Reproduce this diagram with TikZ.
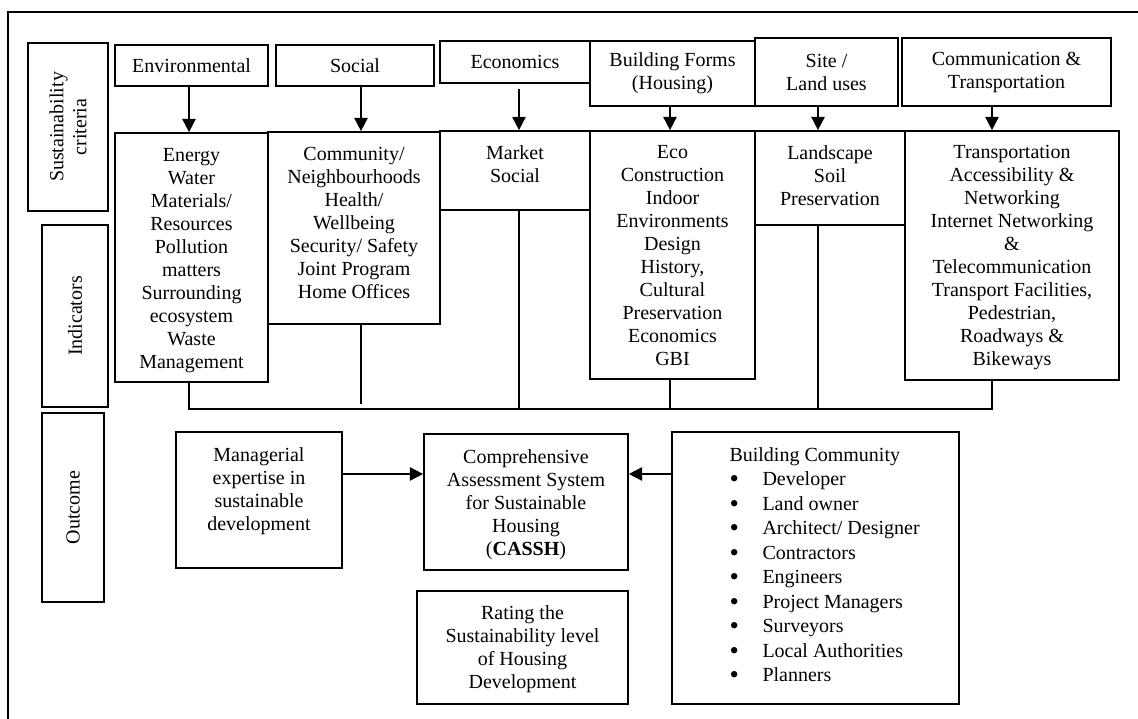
\documentclass[tikz,border=0pt]{standalone}
\usepackage{fontspec}
\setmainfont{Liberation Serif}
\usetikzlibrary{fit,arrows.meta}
\newcommand{\bulletitem}{\makebox[19.8pt][l]{\raisebox{-1pt}{\fontsize{16}{14.7}\selectfont\textbullet}}}
\begin{document}
\begin{tikzpicture}[x=0.6pt,y=-0.6pt,
  bx/.style={draw, line width=1pt, inner sep=0pt, fit={#1}},
  txt/.style={inner sep=0pt, align=center, font=\fontsize{12}{13.8}\selectfont},
  ln/.style={line width=1pt},
  arr/.style={line width=1pt, -{Triangle[length=8pt,width=8pt]}}]
\useasboundingbox (0,0) rectangle (1138,719);
% outer frame
\draw[ln] (1138,12) -- (8,12) -- (8,719);
% left labels
\node[bx={(28,43) (108,211)}] (lab1) {};
\node[txt, rotate=90] (lab1t) at (lab1.center) {Sustainability\\criteria};
\node[bx={(42,225) (108,407)}] (lab2) {};
\node[txt, rotate=90] (lab2t) at (lab2.center) {Indicators};
\node[bx={(42,413) (104,602)}] (lab3) {};
\node[txt, rotate=90] (lab3t) at (lab3.center) {Outcome};
% criteria row
\node[bx={(115,45) (268,86)}] (envC) {};
\node[txt] (envCt) at (envC.center) {Environmental};
\node[bx={(276,45) (434,86)}] (socC) {};
\node[txt] (socCt) at (socC.center) {Social};
\node[bx={(440,41) (590,83)}] (ecoC) {};
\node[txt] (ecoCt) at (ecoC.center) {Economics};
\node[bx={(590,41) (755,106)}] (bfC) {};
\node[txt] (bfCt) at (bfC.center) {Building Forms\\(Housing)};
\node[bx={(755,38) (898,106)}] (siteC) {};
\node[txt] (siteCt) at (siteC.center) {Site /\\Land uses};
\node[bx={(902,38) (1111,106)}] (comC) {};
\node[txt] (comCt) at (comC.center) {Communication \&\\Transportation};
% indicator row
\node[bx={(115,133) (268,382)}] (envI) {};
\node[txt, anchor=north] (envIt) at ([yshift=-9.6pt]envI.north) {Energy\\Water\\Materials/\\Resources\\Pollution\\matters\\Surrounding\\ecosystem\\Waste\\Management};
\node[bx={(268,132) (440,324)}] (socI) {};
\node[txt, anchor=north] (socIt) at ([yshift=-9.3pt]socI.north) {Community/\\Neighbourhoods\\Health/\\Wellbeing\\Security/ Safety\\Joint Program\\Home Offices};
\node[bx={(440,131) (590,210)}] (mkI) {};
\node[txt, anchor=north] (mkIt) at ([yshift=-9pt]mkI.north) {Market\\Social};
\node[bx={(590,131) (755,379)}] (ecI) {};
\node[txt, anchor=north] (ecIt) at ([yshift=-9pt]ecI.north) {Eco\\Construction\\Indoor\\Environments\\Design\\History,\\Cultural\\Preservation\\Economics\\GBI};
\node[bx={(755,131) (905,225)}] (lsI) {};
\node[txt, anchor=north] (lsIt) at ([yshift=-9pt]lsI.north) {Landscape\\Soil\\Preservation};
\node[bx={(905,131) (1119,380)}] (trI) {};
\node[txt, anchor=north] (trIt) at ([yshift=-9pt]trI.north) {Transportation\\Accessibility \&\\Networking\\Internet Networking\\\&\\Telecommunication\\Transport Facilities,\\Pedestrian,\\Roadways \&\\Bikeways};
% outcome row
\node[bx={(176,432) (342,568)}] (mgr) {};
\node[txt, anchor=north] (mgrt) at ([yshift=-9.6pt]mgr.north) {Managerial\\expertise in\\sustainable\\development};
\node[bx={(424,434) (628,570)}] (cassh) {};
\node[txt, anchor=north] (cassht) at ([yshift=-9.6pt]cassh.north) {Comprehensive\\Assessment System\\for Sustainable\\Housing\\(\textbf{CASSH})};
\node[bx={(417,591) (628,704)}] (rate) {};
\node[txt, anchor=north] (ratet) at ([yshift=-8.8pt]rate.north) {Rating the\\Sustainability level\\of Housing\\Development};
\node[bx={(672,432) (959,704)}] (bcom) {};
\node[txt, align=left, font=\fontsize{12}{14.7}\selectfont, anchor=north west] (bcomt) at ([xshift=34.8pt,yshift=-9.6pt]bcom.north west) {Building Community\\
\bulletitem Developer\\
\bulletitem Land owner\\
\bulletitem Architect/ Designer\\
\bulletitem Contractors\\
\bulletitem Engineers\\
\bulletitem Project Managers\\
\bulletitem Surveyors\\
\bulletitem Local Authorities\\
\bulletitem Planners};
% helper coordinates
\coordinate (xe) at (189,0);
\coordinate (xs) at (361,0);
\coordinate (xm) at (519,0);
\coordinate (xb) at (670,0);
\coordinate (xl) at (818,0);
\coordinate (xt) at (992,0);
\coordinate (bus) at (0,409);
\coordinate (ya) at (0,474);
% arrows criteria -> indicators
\draw[arr] (xe |- envC.south) -- (xe |- envI.north);
\draw[arr] (xs |- socC.south) -- (xs |- socI.north);
\draw[arr] ([yshift=-3pt]xm |- ecoC.south) -- (xm |- mkI.north);
\draw[arr] (xb |- bfC.south) -- (xb |- ecI.north);
\draw[arr] (xl |- siteC.south) -- (xl |- lsI.north);
\draw[arr] (xt |- comC.south) -- (xt |- trI.north);
% lines to bus
\draw[ln] (xe |- envI.south) |- (xt |- bus) -- (xt |- trI.south);
\draw[ln, shorten >=3pt] (xs |- socI.south) -- (xs |- bus);
\draw[ln] (xm |- mkI.south) -- (xm |- bus);
\draw[ln] (xb |- ecI.south) -- (xb |- bus);
\draw[ln] (xl |- lsI.south) -- (xl |- bus);
% outcome arrows
\draw[arr] (mgr.east |- ya) -- (cassh.west |- ya);
\draw[arr] (bcom.west |- ya) -- (cassh.east |- ya);
\end{tikzpicture}
\end{document}
